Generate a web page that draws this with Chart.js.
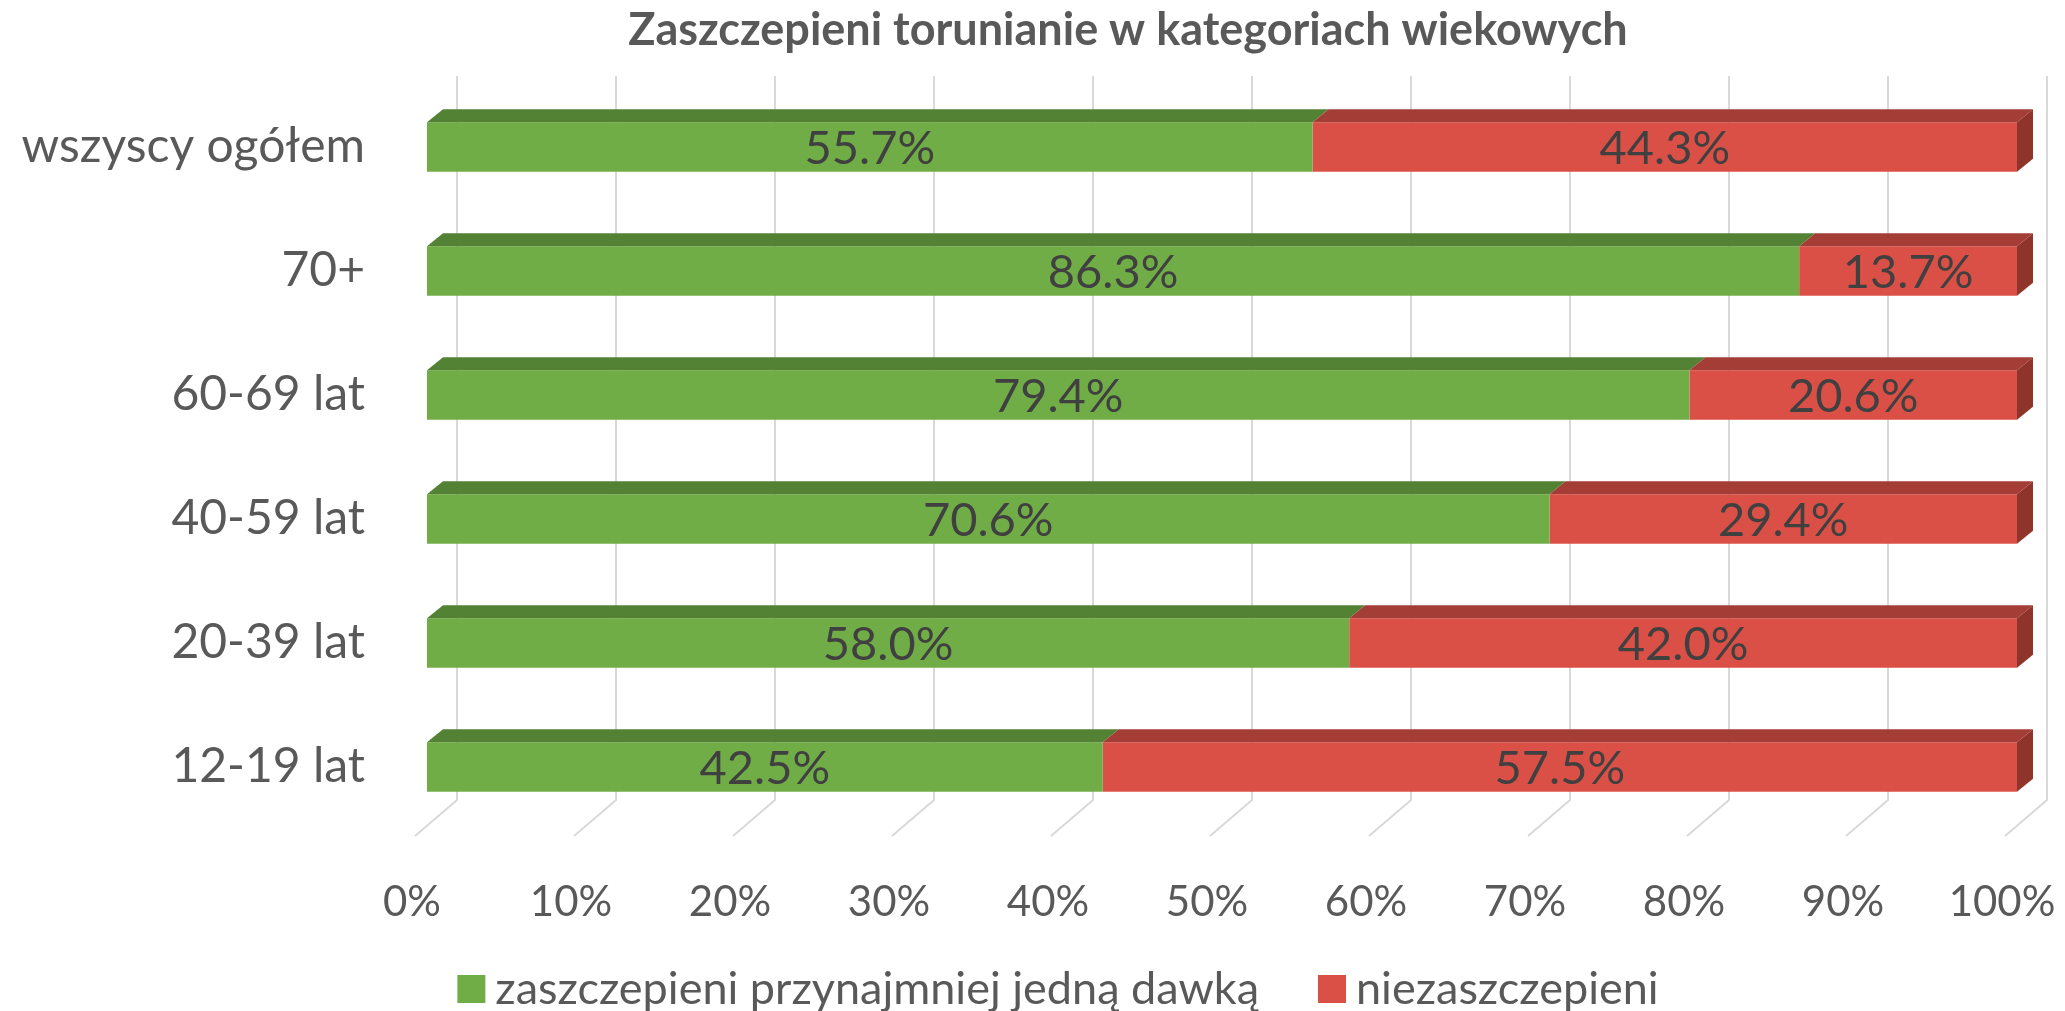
<!DOCTYPE html>
<html>
<head>
<meta charset="utf-8">
<script src="https://cdn.jsdelivr.net/npm/chart.js@4.4.1/dist/chart.umd.min.js"></script>
<style>
  html,body{margin:0;padding:0;background:#fff;}
  #wrap{width:2065px;height:1011px;}
</style>
</head>
<body>
<div id="wrap"><canvas id="chart" width="2065" height="1011"></canvas></div>
<script>
// data
const categories = ['wszyscy ogółem', '70+', '60-69 lat', '40-59 lat', '20-39 lat', '12-19 lat'];
const vaccinated = [55.7, 86.3, 79.4, 70.6, 58.0, 42.5];
const unvaccinated = [44.3, 13.7, 20.6, 29.4, 42.0, 57.5];
const seriesNames = ['zaszczepieni przynajmniej jedną dawką', 'niezaszczepieni'];
const titleText = 'Zaszczepieni torunianie w kategoriach wiekowych';

const FONT = 'Lato, "Open Sans", sans-serif';
const frontColors = ['#70AD47', '#DB5046'];
const topColors = ['#548235', '#A43D35'];
const sideColor = '#8E342B';
const DX = 16, DY = 13; // bar depth

// 3d grid: back wall + floor, bar tops, labels, title, legend
const chart3d = {
  id: 'chart3d',
  beforeDatasetsDraw(chart){
    const ctx = chart.ctx, xs = chart.scales.x, ca = chart.chartArea;
    ctx.save();
    ctx.strokeStyle = '#D9D9D9'; ctx.lineWidth = 2;
    xs.ticks.forEach(t => {
      const px = xs.getPixelForValue(t.value);
      ctx.beginPath();
      ctx.moveTo(px + 30, ca.top - 9);
      ctx.lineTo(px + 30, ca.bottom - 29);
      ctx.lineTo(px - 12, ca.bottom + 7);
      ctx.stroke();
    });
    ctx.restore();
  },
  afterDatasetsDraw(chart){
    const ctx = chart.ctx;
    ctx.save();
    const n = chart.data.datasets.length;
    for(let d=0; d<n; d++){
      const meta = chart.getDatasetMeta(d);
      meta.data.forEach(el => {
        const p = el.getProps(['x','base','y','height'], true);
        const l = Math.min(p.x, p.base), r = Math.max(p.x, p.base);
        const top = p.y - p.height/2, bot = p.y + p.height/2;
        ctx.fillStyle = topColors[d];
        ctx.beginPath();
        ctx.moveTo(l, top); ctx.lineTo(r, top); ctx.lineTo(r+DX, top-DY); ctx.lineTo(l+DX, top-DY);
        ctx.closePath(); ctx.fill();
        if(d === n-1){
          ctx.fillStyle = sideColor;
          ctx.beginPath();
          ctx.moveTo(r, top); ctx.lineTo(r+DX, top-DY); ctx.lineTo(r+DX, bot-DY); ctx.lineTo(r, bot);
          ctx.closePath(); ctx.fill();
        }
      });
    }
    // value labels
    ctx.font = '47px ' + FONT; ctx.fillStyle = '#404040';
    ctx.textAlign = 'center'; ctx.textBaseline = 'middle';
    chart.data.datasets.forEach((ds, d) => {
      chart.getDatasetMeta(d).data.forEach((el, i) => {
        const p = el.getProps(['x','base','y'], true);
        ctx.fillText(ds.data[i].toFixed(1) + '%', (p.x + p.base)/2, p.y + 2);
      });
    });
    ctx.restore();
  },
  afterDraw(chart){
    const ctx = chart.ctx;
    ctx.save();
    // title
    ctx.font = 'bold 45px ' + FONT; ctx.fillStyle = '#595959';
    ctx.textAlign = 'center'; ctx.textBaseline = 'middle';
    ctx.fillText(titleText, 1128, 30);
    // legend
    ctx.font = '45px ' + FONT; ctx.textAlign = 'left';
    const box = 28, gap = 10, spacing = 59;
    const widths = seriesNames.map(s => ctx.measureText(s).width);
    let total = 0;
    widths.forEach((w, i) => { total += box + gap + w + (i ? spacing : 0); });
    let x = 1058 - total/2;
    const cy = 989;
    chart.data.datasets.forEach((ds, i) => {
      ctx.fillStyle = ds.backgroundColor;
      ctx.fillRect(x, cy - box/2, box, box);
      ctx.fillStyle = '#595959';
      ctx.fillText(ds.label, x + box + gap, cy);
      x += box + gap + widths[i] + spacing;
    });
    ctx.restore();
  }
};

new Chart(document.getElementById('chart'), {
  type: 'bar',
  data: {
    labels: categories,
    datasets: [
      {label: seriesNames[0], data: vaccinated, backgroundColor: frontColors[0], borderWidth: 0, barPercentage: 0.4, categoryPercentage: 1},
      {label: seriesNames[1], data: unvaccinated, backgroundColor: frontColors[1], borderWidth: 0, barPercentage: 0.4, categoryPercentage: 1}
    ]
  },
  options: {
    indexAxis: 'y',
    responsive: false,
    animation: false,
    layout: {padding: {top: 85, right: 48, bottom: 82, left: 0}},
    plugins: {legend: {display: false}, title: {display: false}, tooltip: {enabled: false}},
    scales: {
      x: {
        stacked: true, min: 0, max: 100,
        grid: {display: false, drawTicks: false}, border: {display: false},
        ticks: {stepSize: 10, callback: v => v + '%', color: '#595959', font: {family: FONT, size: 42}, padding: 48, labelOffset: -15, maxRotation: 0},
        afterFit(s){ s.height = 100; s.paddingLeft = 0; s.paddingRight = 0; }
      },
      y: {
        stacked: true,
        grid: {display: false, drawTicks: false}, border: {display: false},
        ticks: {color: '#595959', font: {family: FONT, size: 48}, padding: 62},
        afterFit(s){ s.width = 427; s.paddingTop = 0; s.paddingBottom = 0; }
      }
    }
  },
  plugins: [chart3d]
});
</script>
</body>
</html>
